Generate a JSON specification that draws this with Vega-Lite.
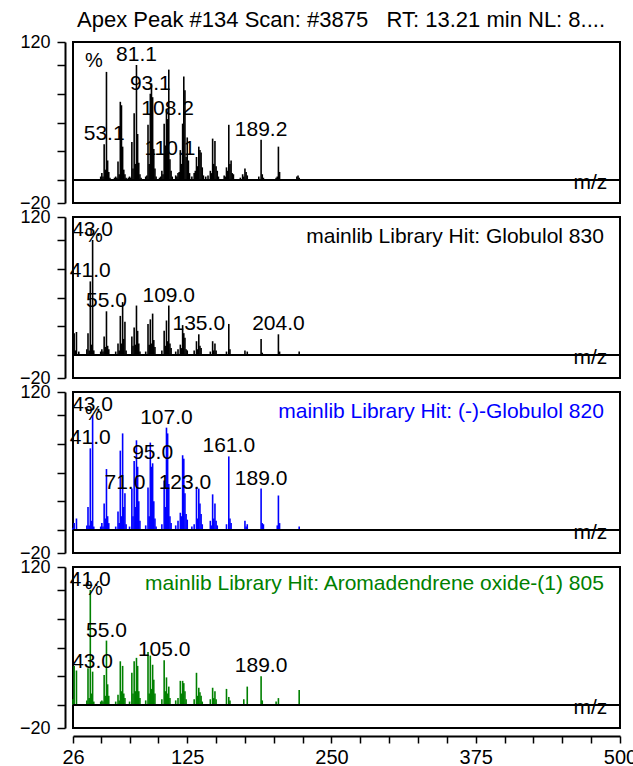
{
  "$schema": "https://vega.github.io/schema/vega-lite/v6.json",
  "background": "white",
  "padding": {"left": 18, "top": 9, "right": 5, "bottom": 0},
  "title": {"text": "Apex Peak #134 Scan: #3875\u00a0\u00a0 RT: 13.21 min NL: 8....", "fontSize": 22, "font": "Liberation Sans", "fontWeight": "normal", "color": "black", "anchor": "middle", "offset": 4, "dy": 4, "dx": 13},
  "spacing": 14,
  "bounds": "flush",
  "config": {
    "view": {"stroke": "black", "strokeWidth": 2},
    "font": "Liberation Sans",
    "axis": {"grid": false, "title": null, "domainColor": "black", "domainWidth": 2, "tickColor": "black", "tickWidth": 1.5, "labelColor": "black", "labelFont": "Liberation Sans", "labelOverlap": false, "labelFlush": false, "offset": 8, "tickSize": 8, "tickCount": 100}
  },
  "datasets": {
    "p1": [
      {"mz":50,"i":3},{"mz":51,"i":6},{"mz":52,"i":3},{"mz":53,"i":31,"lab":"53.1"},{"mz":54,"i":9},{"mz":55,"i":94},{"mz":56,"i":17},{"mz":57,"i":7},{"mz":58,"i":2},
      {"mz":62,"i":2},{"mz":63,"i":3},{"mz":64,"i":2},{"mz":65,"i":16},{"mz":66,"i":5},{"mz":67,"i":68},{"mz":68,"i":65},{"mz":69,"i":29},{"mz":70,"i":9},{"mz":71,"i":5},{"mz":72,"i":2},
      {"mz":74,"i":2},{"mz":75,"i":3},{"mz":76,"i":2},{"mz":77,"i":33},{"mz":78,"i":10},{"mz":79,"i":58},{"mz":80,"i":14},{"mz":81,"i":100,"lab":"81.1"},{"mz":82,"i":40},{"mz":83,"i":15},{"mz":84,"i":5},{"mz":85,"i":2},
      {"mz":89,"i":3},{"mz":90,"i":4},{"mz":91,"i":48},{"mz":92,"i":14},{"mz":93,"i":75,"lab":"93.1"},{"mz":94,"i":84},{"mz":95,"i":72},{"mz":96,"i":27},{"mz":97,"i":10},{"mz":98,"i":3},
      {"mz":101,"i":2},{"mz":102,"i":3},{"mz":103,"i":8},{"mz":104,"i":5},{"mz":105,"i":49},{"mz":106,"i":30},{"mz":107,"i":62},{"mz":108,"i":53,"lab":"108.2"},{"mz":109,"i":96},{"mz":110,"i":18,"lab":"110.1"},{"mz":111,"i":8},{"mz":112,"i":3},
      {"mz":115,"i":4},{"mz":116,"i":3},{"mz":117,"i":6},{"mz":118,"i":7},{"mz":119,"i":26},{"mz":120,"i":14},{"mz":121,"i":49},{"mz":122,"i":90},{"mz":123,"i":78},{"mz":124,"i":20},{"mz":125,"i":37},{"mz":126,"i":17},{"mz":127,"i":6},
      {"mz":129,"i":3},{"mz":131,"i":6},{"mz":132,"i":8},{"mz":133,"i":20},{"mz":134,"i":12},{"mz":135,"i":29},{"mz":136,"i":26},{"mz":137,"i":24},{"mz":138,"i":11},{"mz":139,"i":4},
      {"mz":141,"i":3},{"mz":143,"i":4},{"mz":145,"i":8},{"mz":146,"i":6},{"mz":147,"i":36},{"mz":148,"i":14},{"mz":149,"i":34},{"mz":150,"i":12},{"mz":151,"i":8},{"mz":152,"i":3},
      {"mz":157,"i":4},{"mz":158,"i":3},{"mz":159,"i":11},{"mz":160,"i":8},{"mz":161,"i":48},{"mz":162,"i":14},{"mz":163,"i":17},{"mz":164,"i":6},{"mz":165,"i":5},
      {"mz":171,"i":2},{"mz":173,"i":5},{"mz":174,"i":3},{"mz":175,"i":10},{"mz":176,"i":7},{"mz":177,"i":4},
      {"mz":187,"i":3},{"mz":189,"i":35,"lab":"189.2"},{"mz":190,"i":5},{"mz":191,"i":2},
      {"mz":202,"i":2},{"mz":203,"i":3},{"mz":204,"i":29},{"mz":205,"i":7},
      {"mz":220,"i":3},{"mz":221,"i":4},{"mz":222,"i":2}
    ],
    "p2": [
      {"mz":26,"i":3},{"mz":27,"i":19},{"mz":28,"i":4},{"mz":29,"i":20},{"mz":31,"i":3},
      {"mz":38,"i":5},{"mz":39,"i":19},{"mz":40,"i":4},{"mz":41,"i":64,"lab":"41.0"},{"mz":42,"i":9},{"mz":43,"i":100,"lab":"43.0"},{"mz":44,"i":4},
      {"mz":50,"i":3},{"mz":51,"i":5},{"mz":52,"i":3},{"mz":53,"i":16},{"mz":54,"i":7},{"mz":55,"i":38,"lab":"55.0"},{"mz":56,"i":8},{"mz":57,"i":5},
      {"mz":63,"i":3},{"mz":65,"i":10},{"mz":66,"i":4},{"mz":67,"i":34},{"mz":68,"i":10},{"mz":69,"i":46},{"mz":70,"i":14},{"mz":71,"i":29},{"mz":72,"i":4},
      {"mz":77,"i":16},{"mz":78,"i":8},{"mz":79,"i":24},{"mz":80,"i":9},{"mz":81,"i":43},{"mz":82,"i":21},{"mz":83,"i":10},{"mz":84,"i":3},
      {"mz":89,"i":3},{"mz":91,"i":27},{"mz":92,"i":9},{"mz":93,"i":31},{"mz":94,"i":10},{"mz":95,"i":36},{"mz":96,"i":13},{"mz":97,"i":7},
      {"mz":103,"i":4},{"mz":105,"i":21},{"mz":106,"i":8},{"mz":107,"i":30},{"mz":108,"i":12},{"mz":109,"i":43,"lab":"109.0"},{"mz":110,"i":10},{"mz":111,"i":6},
      {"mz":115,"i":3},{"mz":117,"i":5},{"mz":119,"i":9},{"mz":120,"i":6},{"mz":121,"i":26},{"mz":122,"i":19},{"mz":123,"i":15},{"mz":124,"i":5},{"mz":125,"i":4},
      {"mz":131,"i":4},{"mz":133,"i":12},{"mz":134,"i":5},{"mz":135,"i":18,"lab":"135.0"},{"mz":136,"i":8},{"mz":137,"i":6},
      {"mz":145,"i":3},{"mz":147,"i":12},{"mz":148,"i":4},{"mz":149,"i":10},{"mz":150,"i":4},
      {"mz":159,"i":3},{"mz":161,"i":27},{"mz":162,"i":5},
      {"mz":175,"i":4},{"mz":177,"i":3},
      {"mz":189,"i":14},{"mz":190,"i":2},
      {"mz":204,"i":18,"lab":"204.0"},{"mz":205,"i":3},
      {"mz":222,"i":3}
    ],
    "p3": [
      {"mz":26,"i":2},{"mz":27,"i":6},{"mz":29,"i":10},
      {"mz":38,"i":4},{"mz":39,"i":20},{"mz":40,"i":4},{"mz":41,"i":71,"lab":"41.0"},{"mz":42,"i":8},{"mz":43,"i":100,"lab":"43.0"},{"mz":44,"i":3},
      {"mz":50,"i":3},{"mz":51,"i":6},{"mz":52,"i":3},{"mz":53,"i":23},{"mz":54,"i":10},{"mz":55,"i":53},{"mz":56,"i":12},{"mz":57,"i":6},
      {"mz":63,"i":3},{"mz":65,"i":16},{"mz":66,"i":6},{"mz":67,"i":69},{"mz":68,"i":12},{"mz":69,"i":84},{"mz":70,"i":20},{"mz":71,"i":32,"lab":"71.0"},{"mz":72,"i":5},
      {"mz":75,"i":3},{"mz":77,"i":36},{"mz":78,"i":12},{"mz":79,"i":60},{"mz":80,"i":20},{"mz":81,"i":78},{"mz":82,"i":55},{"mz":83,"i":25},{"mz":84,"i":8},
      {"mz":89,"i":4},{"mz":91,"i":37},{"mz":92,"i":12},{"mz":93,"i":76},{"mz":94,"i":55},{"mz":95,"i":58,"lab":"95.0"},{"mz":96,"i":25},{"mz":97,"i":10},{"mz":98,"i":3},
      {"mz":103,"i":5},{"mz":105,"i":43},{"mz":106,"i":20},{"mz":107,"i":89,"lab":"107.0"},{"mz":108,"i":84},{"mz":109,"i":40},{"mz":110,"i":12},{"mz":111,"i":6},
      {"mz":115,"i":4},{"mz":117,"i":8},{"mz":119,"i":15},{"mz":120,"i":12},{"mz":121,"i":65},{"mz":122,"i":62},{"mz":123,"i":32,"lab":"123.0"},{"mz":124,"i":14},{"mz":125,"i":9},
      {"mz":129,"i":3},{"mz":131,"i":5},{"mz":133,"i":37},{"mz":134,"i":10},{"mz":135,"i":36},{"mz":136,"i":23},{"mz":137,"i":14},{"mz":138,"i":5},
      {"mz":145,"i":8},{"mz":146,"i":4},{"mz":147,"i":31},{"mz":148,"i":10},{"mz":149,"i":23},{"mz":150,"i":8},{"mz":151,"i":4},
      {"mz":159,"i":5},{"mz":161,"i":64,"lab":"161.0"},{"mz":162,"i":10},{"mz":163,"i":6},
      {"mz":175,"i":8},{"mz":176,"i":3},{"mz":177,"i":5},
      {"mz":189,"i":36,"lab":"189.0"},{"mz":190,"i":6},{"mz":191,"i":5},
      {"mz":203,"i":4},{"mz":204,"i":30},{"mz":205,"i":6},
      {"mz":222,"i":3}
    ],
    "p4": [
      {"mz":26,"i":5},{"mz":27,"i":34},{"mz":29,"i":30},
      {"mz":38,"i":4},{"mz":39,"i":32},{"mz":40,"i":6},{"mz":41,"i":100,"lab":"41.0"},{"mz":42,"i":10},{"mz":43,"i":29,"lab":"43.0"},{"mz":44,"i":3},
      {"mz":50,"i":3},{"mz":51,"i":4},{"mz":52,"i":3},{"mz":53,"i":26},{"mz":54,"i":8},{"mz":55,"i":56,"lab":"55.0"},{"mz":56,"i":18},{"mz":57,"i":8},
      {"mz":63,"i":3},{"mz":65,"i":9},{"mz":66,"i":4},{"mz":67,"i":38},{"mz":68,"i":12},{"mz":69,"i":34},{"mz":70,"i":10},{"mz":71,"i":6},
      {"mz":75,"i":3},{"mz":77,"i":28},{"mz":78,"i":10},{"mz":79,"i":38},{"mz":80,"i":12},{"mz":81,"i":41},{"mz":82,"i":34},{"mz":83,"i":12},{"mz":84,"i":6},
      {"mz":89,"i":4},{"mz":91,"i":46},{"mz":92,"i":10},{"mz":93,"i":43},{"mz":94,"i":14},{"mz":95,"i":35},{"mz":96,"i":22},{"mz":97,"i":10},
      {"mz":103,"i":5},{"mz":105,"i":39,"lab":"105.0"},{"mz":106,"i":12},{"mz":107,"i":24},{"mz":108,"i":10},{"mz":109,"i":16},{"mz":110,"i":6},
      {"mz":115,"i":4},{"mz":117,"i":6},{"mz":119,"i":21},{"mz":120,"i":10},{"mz":121,"i":21},{"mz":122,"i":19},{"mz":123,"i":12},{"mz":124,"i":5},
      {"mz":131,"i":5},{"mz":133,"i":28},{"mz":134,"i":8},{"mz":135,"i":15},{"mz":136,"i":11},{"mz":137,"i":8},{"mz":138,"i":3},
      {"mz":145,"i":5},{"mz":147,"i":15},{"mz":148,"i":6},{"mz":149,"i":12},{"mz":150,"i":5},
      {"mz":159,"i":14},{"mz":161,"i":7},{"mz":162,"i":4},
      {"mz":174,"i":5},{"mz":177,"i":16},
      {"mz":189,"i":25,"lab":"189.0"},{"mz":190,"i":4},
      {"mz":202,"i":3},{"mz":204,"i":6},
      {"mz":222,"i":13}
    ]
  },
  "vconcat": [
    {
      "width": 547, "height": 161,
      "layer": [
        {"data": {"name": "p1"}, "mark": {"type": "rule", "color": "black", "strokeWidth": 1.6},
         "encoding": {
           "x": {"field": "mz", "type": "quantitative", "scale": {"domain": [26, 500], "nice": false, "zero": false}, "axis": null},
           "y": {"field": "i", "type": "quantitative", "scale": {"domain": [-20, 120], "nice": false, "zero": false},
                 "axis": {"values": [-20, 0, 25, 50, 75, 100, 120], "tickCount": 100, "labelExpr": "datum.value == 120 || datum.value == -20 ? datum.label : ''", "labelFontSize": 18, "labelPadding": 7, "labelOverlap": false}},
           "y2": {"datum": 0}}},
        {"data": {"values": [{}]}, "mark": {"type": "rule", "color": "black", "strokeWidth": 2}, "encoding": {"y": {"datum": 0}}},
        {"data": {"name": "p1"}, "transform": [{"filter": "datum.lab"}], "mark": {"type": "text", "fontSize": 21, "baseline": "alphabetic", "dy": -4, "color": "black", "font": "Liberation Sans"},
         "encoding": {"x": {"field": "mz", "type": "quantitative"}, "y": {"field": "i", "type": "quantitative"}, "text": {"field": "lab"}}},
        {"data": {"values": [{}]}, "mark": {"type": "text", "fontSize": 20, "baseline": "alphabetic", "color": "black"},
         "encoding": {"x": {"datum": 44}, "y": {"datum": 98}, "text": {"value": "%"}}},
        {"data": {"values": [{}]}, "mark": {"type": "text", "fontSize": 21, "baseline": "alphabetic", "align": "right", "color": "black"},
         "encoding": {"x": {"datum": 489}, "y": {"datum": -8}, "text": {"value": "m/z"}}}
      ]
    },
    {
      "width": 547, "height": 161,
      "layer": [
        {"data": {"name": "p2"}, "mark": {"type": "rule", "color": "black", "strokeWidth": 1.6},
         "encoding": {
           "x": {"field": "mz", "type": "quantitative", "scale": {"domain": [26, 500], "nice": false, "zero": false}, "axis": null},
           "y": {"field": "i", "type": "quantitative", "scale": {"domain": [-20, 120], "nice": false, "zero": false},
                 "axis": {"values": [-20, 0, 25, 50, 75, 100, 120], "tickCount": 100, "labelExpr": "datum.value == 120 || datum.value == -20 ? datum.label : ''", "labelFontSize": 18, "labelPadding": 7, "labelOverlap": false}},
           "y2": {"datum": 0}}},
        {"data": {"values": [{}]}, "mark": {"type": "rule", "color": "black", "strokeWidth": 2}, "encoding": {"y": {"datum": 0}}},
        {"data": {"name": "p2"}, "transform": [{"filter": "datum.lab"}], "mark": {"type": "text", "fontSize": 21, "baseline": "alphabetic", "dy": -4, "color": "black", "font": "Liberation Sans"},
         "encoding": {"x": {"field": "mz", "type": "quantitative"}, "y": {"field": "i", "type": "quantitative"}, "text": {"field": "lab"}}},
        {"data": {"values": [{}]}, "mark": {"type": "text", "fontSize": 20, "baseline": "alphabetic", "color": "black"},
         "encoding": {"x": {"datum": 44}, "y": {"datum": 98}, "text": {"value": "%"}}},
        {"data": {"values": [{}]}, "mark": {"type": "text", "fontSize": 21, "baseline": "alphabetic", "align": "right", "color": "black"},
         "encoding": {"x": {"datum": 489}, "y": {"datum": -8}, "text": {"value": "m/z"}}},
        {"data": {"values": [{}]}, "mark": {"type": "text", "fontSize": 21, "baseline": "alphabetic", "align": "right", "color": "black"},
         "encoding": {"x": {"datum": 486}, "y": {"datum": 97}, "text": {"value": "mainlib Library Hit: Globulol 830"}}}
      ]
    },
    {
      "width": 547, "height": 161,
      "layer": [
        {"data": {"name": "p3"}, "mark": {"type": "rule", "color": "#0000ff", "strokeWidth": 1.6},
         "encoding": {
           "x": {"field": "mz", "type": "quantitative", "scale": {"domain": [26, 500], "nice": false, "zero": false}, "axis": null},
           "y": {"field": "i", "type": "quantitative", "scale": {"domain": [-20, 120], "nice": false, "zero": false},
                 "axis": {"values": [-20, 0, 25, 50, 75, 100, 120], "tickCount": 100, "labelExpr": "datum.value == 120 || datum.value == -20 ? datum.label : ''", "labelFontSize": 18, "labelPadding": 7, "labelOverlap": false}},
           "y2": {"datum": 0}}},
        {"data": {"values": [{}]}, "mark": {"type": "rule", "color": "black", "strokeWidth": 2}, "encoding": {"y": {"datum": 0}}},
        {"data": {"name": "p3"}, "transform": [{"filter": "datum.lab"}], "mark": {"type": "text", "fontSize": 21, "baseline": "alphabetic", "dy": -4, "color": "black", "font": "Liberation Sans"},
         "encoding": {"x": {"field": "mz", "type": "quantitative"}, "y": {"field": "i", "type": "quantitative"}, "text": {"field": "lab"}}},
        {"data": {"values": [{}]}, "mark": {"type": "text", "fontSize": 20, "baseline": "alphabetic", "color": "black"},
         "encoding": {"x": {"datum": 44}, "y": {"datum": 96}, "text": {"value": "%"}}},
        {"data": {"values": [{}]}, "mark": {"type": "text", "fontSize": 21, "baseline": "alphabetic", "align": "right", "color": "black"},
         "encoding": {"x": {"datum": 489}, "y": {"datum": -8}, "text": {"value": "m/z"}}},
        {"data": {"values": [{}]}, "mark": {"type": "text", "fontSize": 21, "baseline": "alphabetic", "align": "right", "color": "#0000ff"},
         "encoding": {"x": {"datum": 486}, "y": {"datum": 97}, "text": {"value": "mainlib Library Hit: (-)-Globulol 820"}}}
      ]
    },
    {
      "width": 547, "height": 161,
      "layer": [
        {"data": {"name": "p4"}, "mark": {"type": "rule", "color": "#008000", "strokeWidth": 1.6},
         "encoding": {
           "x": {"field": "mz", "type": "quantitative", "scale": {"domain": [26, 500], "nice": false, "zero": false},
                 "axis": {"values": [26, 50, 75, 100, 125, 150, 175, 200, 225, 250, 275, 300, 325, 350, 375, 400, 425, 450, 475, 500], "tickCount": 100, "labelExpr": "indexof([26,125,250,375,500], datum.value) >= 0 ? datum.label : ''", "labelFontSize": 20, "labelPadding": 4, "labelOverlap": false, "labelBound": false, "tickSize": 7}},
           "y": {"field": "i", "type": "quantitative", "scale": {"domain": [-20, 120], "nice": false, "zero": false},
                 "axis": {"values": [-20, 0, 25, 50, 75, 100, 120], "tickCount": 100, "labelExpr": "datum.value == 120 || datum.value == -20 ? datum.label : ''", "labelFontSize": 18, "labelPadding": 7, "labelOverlap": false}},
           "y2": {"datum": 0}}},
        {"data": {"values": [{}]}, "mark": {"type": "rule", "color": "black", "strokeWidth": 2}, "encoding": {"y": {"datum": 0}}},
        {"data": {"name": "p4"}, "transform": [{"filter": "datum.lab"}], "mark": {"type": "text", "fontSize": 21, "baseline": "alphabetic", "dy": -4, "color": "black", "font": "Liberation Sans"},
         "encoding": {"x": {"field": "mz", "type": "quantitative"}, "y": {"field": "i", "type": "quantitative"}, "text": {"field": "lab"}}},
        {"data": {"values": [{}]}, "mark": {"type": "text", "fontSize": 20, "baseline": "alphabetic", "color": "black"},
         "encoding": {"x": {"datum": 44}, "y": {"datum": 96}, "text": {"value": "%"}}},
        {"data": {"values": [{}]}, "mark": {"type": "text", "fontSize": 21, "baseline": "alphabetic", "align": "right", "color": "black"},
         "encoding": {"x": {"datum": 489}, "y": {"datum": -8}, "text": {"value": "m/z"}}},
        {"data": {"values": [{}]}, "mark": {"type": "text", "fontSize": 21, "baseline": "alphabetic", "align": "right", "color": "#008000"},
         "encoding": {"x": {"datum": 486}, "y": {"datum": 100}, "text": {"value": "mainlib Library Hit: Aromadendrene oxide-(1) 805"}}}
      ]
    }
  ]
}
